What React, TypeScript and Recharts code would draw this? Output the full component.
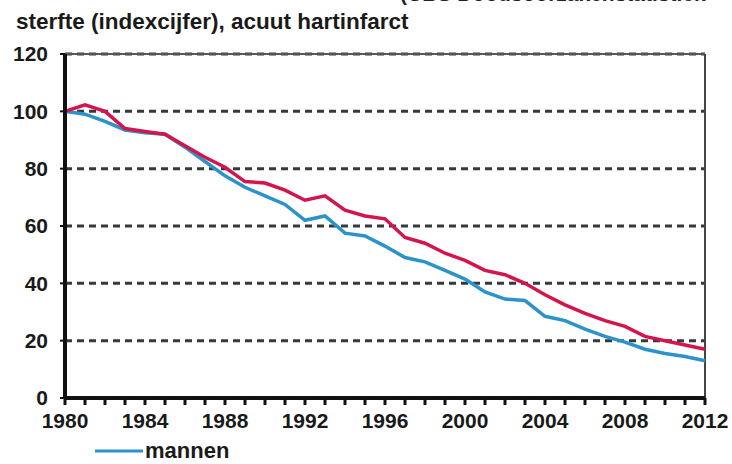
import { LineChart, Line, XAxis, YAxis, CartesianGrid, ReferenceLine } from 'recharts'

const FONT = '"Liberation Sans", Arial, sans-serif'

const years = [
  1980, 1981, 1982, 1983, 1984, 1985, 1986, 1987, 1988, 1989, 1990,
  1991, 1992, 1993, 1994, 1995, 1996, 1997, 1998, 1999, 2000, 2001,
  2002, 2003, 2004, 2005, 2006, 2007, 2008, 2009, 2010, 2011, 2012,
]
const mannen = [
  100, 99, 96.5, 93.5, 92.5, 92, 87.5, 82.5, 77.5, 73.5, 70.5,
  67.5, 62, 63.5, 57.5, 56.5, 53, 49, 47.5, 44.5, 41.5, 37,
  34.5, 34, 28.5, 27, 24, 21.5, 19.5, 17, 15.5, 14.5, 13,
]
const vrouwen = [
  100, 102.3, 100, 94, 93, 92, 88, 84, 80.5, 75.5, 75,
  72.5, 69, 70.5, 65.5, 63.5, 62.5, 56, 54, 50.5, 48, 44.5,
  43, 40, 36, 32.5, 29.5, 27, 25, 21.5, 20, 18.5, 17,
]
const yTicks = [0, 20, 40, 60, 80, 100, 120]
const xLabels = [1980, 1984, 1988, 1992, 1996, 2000, 2004, 2008, 2012]

const data = years.map((jaar, i) => ({ jaar, mannen: mannen[i], vrouwen: vrouwen[i] }))

export default function App() {
  return (
    <div style={{ position: 'absolute', left: 0, top: 0, width: 732, height: 464, background: '#fff', fontFamily: FONT, overflow: 'hidden' }}>
      {/* line from the page above, cut off by the crop */}
      <div style={{ position: 'absolute', left: 400, top: -18, fontSize: 21, fontWeight: 700, color: '#222', whiteSpace: 'nowrap' }}>
        (CBS Doodsoorzakenstatistiek
      </div>
      <div style={{ position: 'absolute', left: 16, top: 9, fontSize: 22.5, fontWeight: 700, color: '#1a1a1a', whiteSpace: 'nowrap' }}>
        sterfte (indexcijfer), acuut hartinfarct
      </div>
      <LineChart width={732} height={464} data={data} margin={{ top: 54, right: 27, bottom: 36, left: 0 }}>
        <CartesianGrid vertical={false} horizontal stroke="#333a3a" strokeWidth={3} strokeDasharray="7 5" />
        <ReferenceLine y={120} stroke="#555" strokeWidth={2} />
        <ReferenceLine x={2012} stroke="#444" strokeWidth={2} />
        <XAxis
          dataKey="jaar"
          type="number"
          domain={[1980, 2012]}
          ticks={years}
          interval={0}
          height={30}
          axisLine={{ stroke: '#111', strokeWidth: 4 }}
          tickLine={{ stroke: '#111', strokeWidth: 3 }}
          tickSize={7}
          tickMargin={8}
          tickFormatter={(v: number) => (xLabels.includes(v) ? String(v) : '')}
          tick={{ fill: '#1a1a1a', fontSize: 21, fontWeight: 700, fontFamily: FONT }}
        />
        <YAxis
          domain={[0, 120]}
          ticks={yTicks}
          width={65}
          axisLine={{ stroke: '#111', strokeWidth: 4 }}
          tickLine={{ stroke: '#111', strokeWidth: 2 }}
          tickSize={5}
          tickMargin={12}
          tick={{ fill: '#1a1a1a', fontSize: 21, fontWeight: 700, fontFamily: FONT }}
        />
        <Line dataKey="mannen" stroke="#2b93c9" strokeWidth={3.5} dot={false} isAnimationActive={false} />
        <Line dataKey="vrouwen" stroke="#d4144c" strokeWidth={3.5} dot={false} isAnimationActive={false} />
      </LineChart>
      <div style={{ position: 'absolute', left: 95, top: 438, display: 'flex', alignItems: 'center' }}>
        <svg width={48} height={12}>
          <line x1={0} y1={6} x2={48} y2={6} stroke="#2b93c9" strokeWidth={3} />
        </svg>
        <span style={{ fontSize: 22, fontWeight: 700, color: '#1a1a1a', marginLeft: 2, lineHeight: '26px' }}>mannen</span>
      </div>
    </div>
  )
}
